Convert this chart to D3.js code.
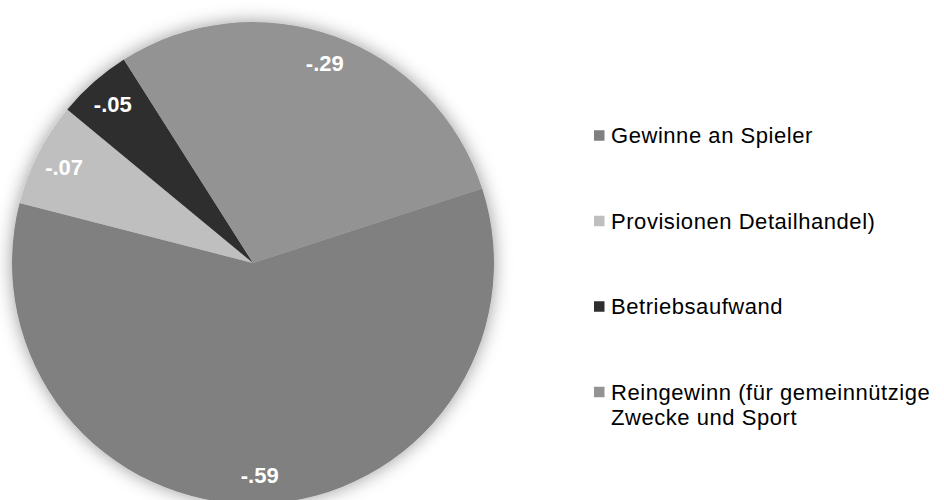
<!DOCTYPE html>
<html>
<head>
<meta charset="utf-8">
<script src="https://cdn.jsdelivr.net/npm/d3@7/dist/d3.min.js"></script>
<style>
  html, body { margin: 0; padding: 0; background: #fff; }
  svg { display: block; }
</style>
</head>
<body>
<svg id="chart" width="944" height="500"></svg>
<script>
const categories = ["Gewinne an Spieler", "Provisionen Detailhandel)", "Betriebsaufwand", "Reingewinn (für gemeinnützige Zwecke und Sport"];
const legendLines = [["Gewinne an Spieler"], ["Provisionen Detailhandel)"], ["Betriebsaufwand"], ["Reingewinn (für gemeinnützige", "Zwecke und Sport"]];
const values = [-0.59, -0.07, -0.05, -0.29];
const labels = ["-.59", "-.07", "-.05", "-.29"];
const colors = ["#808080", "#bfbfbf", "#2f2f2f", "#939393"];

const svg = d3.select("#chart");
const cx = 253, cy = 263, r = 241;

const defs = svg.append("defs");
const f = defs.append("filter").attr("id", "shadow")
  .attr("x", "-20%").attr("y", "-20%").attr("width", "140%").attr("height", "140%");
f.append("feDropShadow").attr("dx", 0).attr("dy", 0).attr("stdDeviation", 9)
  .attr("flood-color", "#000").attr("flood-opacity", 0.4);

const data = categories.map((c, i) => ({ cat: c, value: values[i], label: labels[i], color: colors[i] }));

const pie = d3.pie().sort(null).value(d => Math.abs(d.value))
  .startAngle(72 * Math.PI / 180).endAngle(72 * Math.PI / 180 + 2 * Math.PI);
const arcs = pie(data);
const arc = d3.arc().innerRadius(0).outerRadius(r);
const labelArc = d3.arc().innerRadius(212).outerRadius(212);

const g = svg.append("g").attr("transform", `translate(${cx},${cy})`);
const slices = g.append("g").attr("filter", "url(#shadow)");
slices.selectAll("path").data(arcs).join("path")
  .attr("d", arc).attr("fill", d => d.data.color);

g.selectAll("text.lbl").data(arcs).join("text")
  .attr("class", "lbl")
  .attr("transform", d => `translate(${labelArc.centroid(d)})`)
  .attr("text-anchor", "middle")
  .attr("dy", "0.36em")
  .attr("font-family", "'Liberation Sans', Arial, sans-serif")
  .attr("font-weight", "bold")
  .attr("font-size", 22)
  .attr("fill", "#fff")
  .text(d => d.data.label);

const legendY = d3.scalePoint().domain(categories).range([135.5, 392]);
const leg = svg.append("g");
const items = leg.selectAll("g").data(data).join("g")
  .attr("transform", d => `translate(594,${legendY(d.cat)})`);
items.append("rect").attr("x", 0).attr("y", -5.25).attr("width", 10.5).attr("height", 10.5)
  .attr("fill", d => d.color);
items.append("text")
  .attr("x", 17).attr("y", 7.5)
  .attr("font-family", "'Liberation Sans', Arial, sans-serif")
  .attr("font-size", 22)
  .attr("letter-spacing", "0.55px")
  .attr("fill", "#000")
  .selectAll("tspan").data((d, i) => legendLines[i]).join("tspan")
  .attr("x", 17).attr("dy", (d, i) => i === 0 ? 0 : 25.5)
  .text(d => d);
</script>
</body>
</html>
